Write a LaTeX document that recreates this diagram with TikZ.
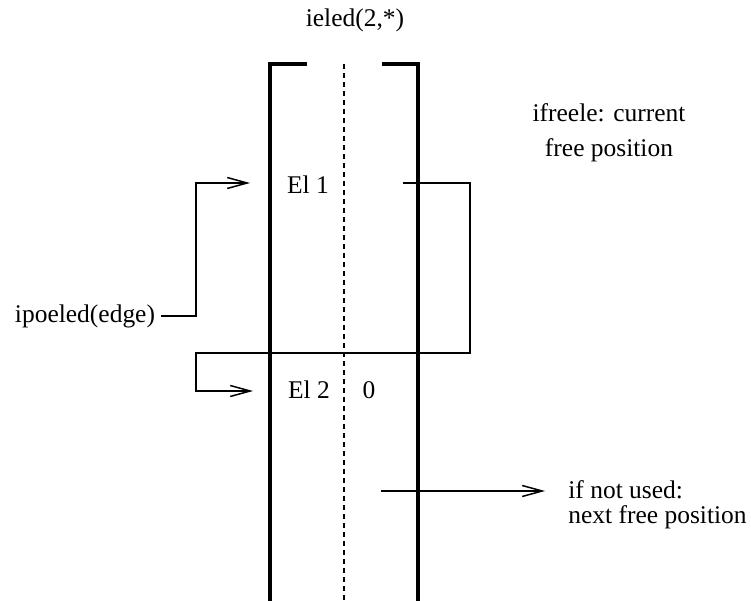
\documentclass[tikz,border=0pt]{standalone}
\usepackage{fontspec}
\setmainfont{Liberation Serif}
\usepackage{tikz}
\usetikzlibrary{arrows.meta}
\tikzstyle{wall} = [line width=1.9pt]
\tikzstyle{mid} = [dash pattern=on 0.1cm off 0.08cm, line width=0.6pt]
\tikzstyle{line} = [draw, line width=0.85pt]
\tikzstyle{arrow} = [line, -{Straight Barb[length=0.4cm, width=0.22cm]}]
\tikzstyle{note} = [font=\fontsize{14.5}{14}\selectfont]

\begin{document}
\begin{tikzpicture}[x=0.02cm, y=-0.02cm]
    \useasboundingbox (0,0) rectangle (751,601);

    % the array column
    \draw[wall] (307,64) -- (270,64) -- (270,601);
    \draw[wall] (382,64) -- (418,64) -- (418,601);
    \draw[mid] (344,64) -- (344,601);

    \node[note] (ieled) at (355,20) {ieled(2,*)};
    \node[note, align=center] (ifreele) at (609,133) {ifreele: current\\[6pt]free position};
    \node[note] (el1) at (308,185) {El 1};
    \node[note] (el2) at (309,390) {El 2};
    \node[note] (zero) at (369,390) {0};
    \node[note] (ipo) at (85,316) {ipoeled(edge)};
    \node[note, align=left, anchor=west, inner sep=0] (notused) at (568,505) {if not used:\\next free position};

    \coordinate (in1) at (250,183);
    \coordinate (in2) at (253,391);
    \coordinate (out1) at (403,183);
    \coordinate (used) at (381,491);
    \coordinate (bend) at (196,353);

    \draw[arrow] (ipo.east) -- (ipo.east -| bend) |- (in1);
    \draw[arrow] (out1) -| (470,353) -- (bend) |- (in2);
    \draw[arrow, shorten >=0.46cm] (used) -- (used -| notused.west);
\end{tikzpicture}
\end{document}
